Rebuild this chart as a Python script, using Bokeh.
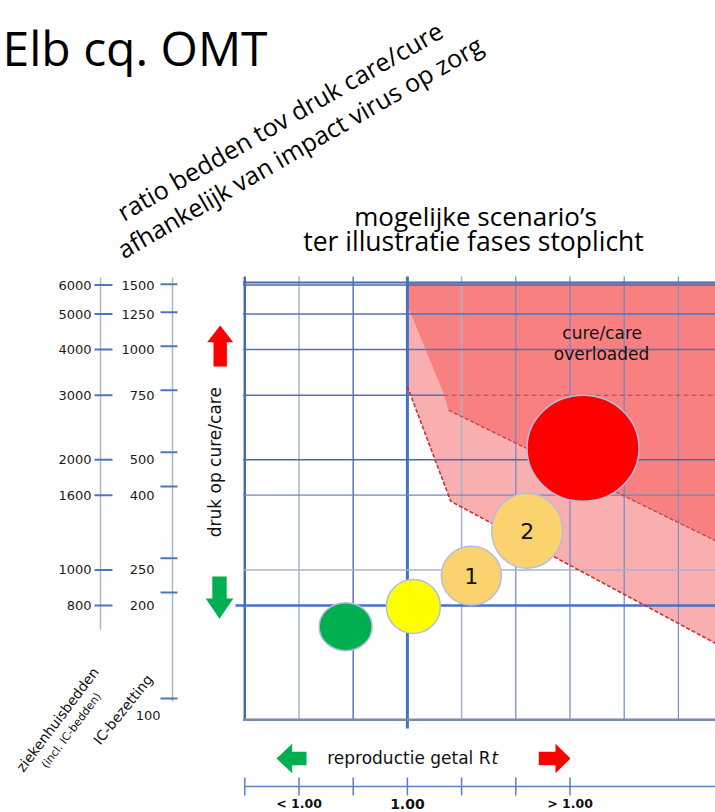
import math
from bokeh.plotting import figure
from bokeh.models import Range1d, LogScale
from bokeh.core.properties import value
from bokeh.embed import file_html
from bokeh.resources import INLINE

# ---------------- data ----------------
bedden_ticks = [6000, 5000, 4000, 3000, 2000, 1600, 1000, 800]
bedden_tick_labels = ["6000", "5000", "4000", "3000", "2000", "1600", "1000", "800"]
ic_ticks = [1500, 1250, 1000, 750, 500, 400, 250, 200, 100]
ic_tick_labels = ["1500", "1250", "1000", "750", "500", "400", "250", "200", "100"]
ic_label_rows = [6000, 5000, 4000, 3000, 2000, 1600, 1000, 800, 400]
rt_ticks = [0, 1, 2, 3, 4, 5, 6]
rt_label_pos = [1, 3, 6]
rt_labels = ["< 1.00", "1.00", "> 1.00"]
grid_cols = [0, 1, 2, 3, 4, 5, 6, 7, 8]
chart_top = 6100
chart_bottom = 390

scenario_rt = [1.86, 3.11, 4.18, 5.21, 6.24]
scenario_druk = [700, 795, 965, 1280, 2150]
scenario_labels = ["", "", "1", "2", ""]

zone_light_rt = [3.0, 3.0, 3.8, 9.0, 9.0]
zone_light_druk = [6100, 3170, 1540, 595, 6100]
zone_dark_rt = [3.0, 3.0, 3.67, 3.76, 9.0, 9.0]
zone_dark_druk = [6100, 5280, 3030, 2730, 1140, 6100]
overload_line_druk = 3000

# ---------------- styles ----------------
scenario_colors = ["#00B050", "#FFFF00", "#FAD36F", "#FAD36F", "#FF0000"]
scenario_w = [53, 54, 60, 71, 112]
scenario_h = [48, 54, 59, 75, 106]

vcol_colors = ["#4A6AAE", "#A5B3CB", "#5877BD", "#4472C4", "#A5B3CB",
               "#6D88C6", "#6D88C6", "#6D88C6", "#7C8FBF"]
vcol_widths = [2.5, 1.5, 1.5, 3, 1.5, 1.2, 1.2, 1.2, 1.2]
hrow_colors = ["#4A6AAE", "#4A6AAE", "#5272B8", "#5272B8", "#5272B8",
               "#4A6AAE", "#6D88C6", "#A5B3CB", "#4472C4", "#7A8AA6"]
hrow_widths = [2, 1.5, 1.5, 1.5, 1.5, 1.5, 1.2, 1.5, 2.5, 2.5]


# layout helpers (reference pixel -> data units)
def X(px):
    return (px - 244.3) / 54.2


def Y(py):
    return 10 ** (3.3705 - (py - 433.79) / 366.2)


def ICY(py):
    return 10 ** (2.6831 - (py - 457.38) / 352.2)


W, H = 715, 812

p = figure(width=W, height=H,
           x_range=Range1d(X(0), X(W)),
           y_range=Range1d(Y(H), Y(0)),
           y_axis_type="log", x_axis_location=None, y_axis_location=None,
           output_backend="svg", toolbar_location=None, min_border=0)
p.extra_y_ranges = {"ic": Range1d(ICY(H), ICY(0))}
p.extra_y_scales = {"ic": LogScale()}
p.grid.visible = False
p.outline_line_color = None
p.background_fill_color = "white"
p.border_fill_color = "white"

# ---------------- zones ----------------
p.patch(zone_light_rt, zone_light_druk, fill_color="#F9AFAF", line_color=None)
p.patch(zone_dark_rt, zone_dark_druk, fill_color="#F98080", line_color=None)

# ---------------- grid ----------------
right_edge = X(W + 4)
vy0 = [Y(276)] * len(grid_cols)
vy1 = [chart_bottom if c != 3 else Y(728) for c in grid_cols]
p.segment(x0=grid_cols, y0=vy0, x1=grid_cols, y1=vy1,
          line_color=vcol_colors, line_width=vcol_widths)

h_rows = [chart_top] + bedden_ticks + [chart_bottom]
hx0 = [X(235) if r == 800 else X(242.5) for r in h_rows]
hx1 = [zone_dark_rt[2] if r == overload_line_druk else right_edge for r in h_rows]
p.segment(x0=hx0, y0=h_rows, x1=hx1, y1=h_rows,
          line_color=hrow_colors, line_width=hrow_widths)

# zone borders
p.line([zone_dark_rt[2], right_edge], [overload_line_druk, overload_line_druk],
       line_color="#9A4B5E", line_width=1.2, line_dash="5 3")
p.line(zone_light_rt[1:4], zone_light_druk[1:4], line_color="#C83232",
       line_width=1.6, line_dash="4 2")
p.line(zone_dark_rt[3:5], zone_dark_druk[3:5], line_color="#C04545",
       line_width=1.3, line_dash="4 2")

# ---------------- left axes ----------------
p.segment(x0=[X(100)], y0=[Y(277)], x1=[X(100)], y1=[Y(629)],
          line_color="#A9B7CF", line_width=1.5)
n = len(bedden_ticks)
p.segment(x0=[X(94)] * n, y0=bedden_ticks, x1=[X(112)] * n, y1=bedden_ticks,
          line_color="#4F76B9", line_width=2)
p.text(x=[X(91)] * n, y=bedden_ticks, text=bedden_tick_labels,
       text_font=value("DejaVu Sans"), text_font_size=value("13px"),
       text_align="right", text_baseline="middle", text_color="#1a1a1a")

p.segment(x0=[X(172)], y0=[Y(277)], x1=[X(172)], y1=[Y(701)],
          line_color="#A9B7CF", line_width=1.5)
m = len(ic_ticks)
p.segment(x0=[X(160)] * m, y0=ic_ticks, x1=[X(177)] * m, y1=ic_ticks,
          line_color="#4F76B9", line_width=2, y_range_name="ic")
ic_label_x = [X(154)] * (m - 1) + [X(160)]
p.text(x=ic_label_x, y=ic_label_rows, text=ic_tick_labels,
       text_font=value("DejaVu Sans"), text_font_size=value("13px"),
       text_align="right", text_baseline="middle", text_color="#1a1a1a")

# ---------------- bottom Rt axis ----------------
p.segment(x0=[X(244)], y0=[Y(786)], x1=[right_edge], y1=[Y(786)],
          line_color="#5B7FC0", line_width=1.5)
k = len(rt_ticks)
p.segment(x0=rt_ticks, y0=[Y(777)] * k, x1=rt_ticks, y1=[Y(795)] * k,
          line_color="#5B7FC0", line_width=1.5)
rt_sizes = ["12.5px" if l != "1.00" else "14px" for l in rt_labels]
p.text(x=rt_label_pos, y=[Y(803)] * len(rt_labels), text=rt_labels,
       text_font=value("DejaVu Sans"), text_font_size=rt_sizes,
       text_font_style="bold", text_align="center", text_baseline="middle",
       text_color="#111111")


# ---------------- arrows ----------------
def arrow(tip_x, tip_y, dx, dy, head_len, head_half, shaft_half, total, color):
    local = [(0, 0), (head_len, head_half), (head_len, shaft_half), (total, shaft_half),
             (total, -shaft_half), (head_len, -shaft_half), (head_len, -head_half)]
    xs, ys = [], []
    for a, c in local:
        px = tip_x - a * dx + c * (-dy)
        py = tip_y - a * dy + c * dx
        xs.append(X(px))
        ys.append(Y(py))
    p.patch(xs, ys, fill_color=color, line_color=None)


arrow(219.7, 325, 0, -1, 16.7, 13, 6.7, 41, "#FF0000")
arrow(219, 618.3, 0, 1, 20.3, 13.8, 7.2, 42.3, "#00B050")
arrow(276, 758, -1, 0, 15.7, 14.7, 6.7, 30, "#00B050")
arrow(570, 758, 1, 0, 15, 14.7, 6.7, 31.7, "#FF0000")

# ---------------- scenarios ----------------
p.ellipse(x=scenario_rt, y=scenario_druk, width=scenario_w, height=scenario_h,
          width_units="screen", height_units="screen",
          fill_color=scenario_colors, line_color="#B4BEDC", line_width=1.5)
p.text(x=scenario_rt, y=scenario_druk, text=scenario_labels,
       text_font=value("DejaVu Sans"), text_font_size=value("22px"),
       text_align="center", text_baseline="middle", text_color="#111111")


# ---------------- texts ----------------
def txt(px, py, s, size, font="DejaVu Sans", align="left", baseline="middle",
        angle=0, style="normal", color="#111111"):
    p.text(x=[X(px)], y=[Y(py)], text=[s], text_font=value(font),
           text_font_size=value(f"{size}px"), text_align=align,
           text_baseline=baseline, angle=angle, angle_units="deg",
           text_font_style=style, text_color=color)


txt(2, 47, "Elb cq. OMT", 48, font="Open Sans", align="left", color="#000000")
txt(279, 120, "ratio bedden tov druk care/cure", 25, font="Open Sans",
    align="center", angle=30, color="#000000")
txt(299, 146, "afhankelijk van impact virus op zorg", 25, font="Open Sans",
    align="center", angle=30, color="#000000")
txt(475, 215, "mogelijke scenario\u2019s", 26, font="Open Sans", align="center",
    color="#000000")
txt(473, 240, "ter illustratie fases stoplicht", 26.5, font="Open Sans",
    align="center", color="#000000")
txt(601.7, 332, "cure/care", 17, align="center")
txt(601, 353.5, "overloaded", 17, align="center")
txt(214, 461.7, "druk op cure/care", 17, align="center", angle=90)
txt(326.7, 757.5, "reproductie getal R", 17)
txt(491, 757.5, "t", 17, style="italic")
txt(57, 719, "ziekenhuisbedden", 14, align="center", angle=53)
txt(71, 730, "(incl. IC-bedden)", 11, align="center", angle=53)
txt(122.5, 709, "IC-bezetting", 14, align="center", angle=51)

open("out.html", "w").write(file_html(p, INLINE))
